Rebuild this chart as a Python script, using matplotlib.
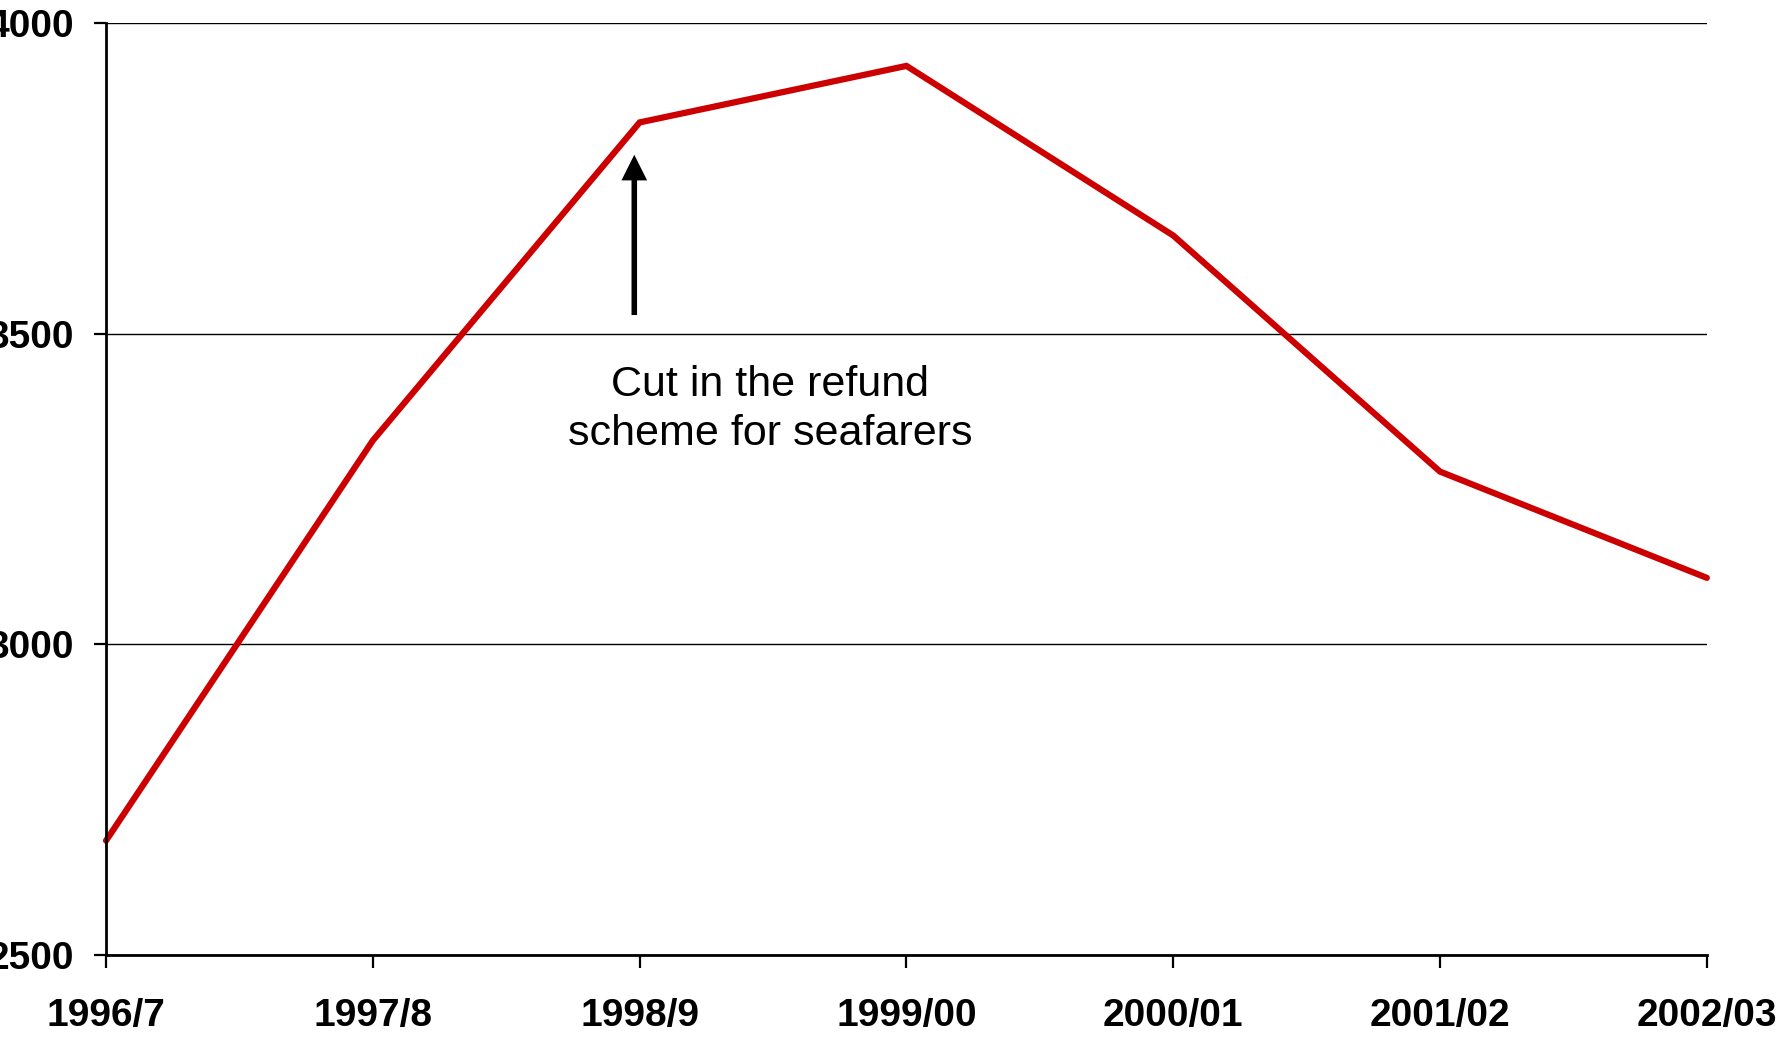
import matplotlib.pyplot as plt

years  = ['1996/7', '1997/8', '1998/9', '1999/00', '2000/01', '2001/02', '2002/03']
values = [2684, 3328, 3840, 3931, 3658, 3278, 3107]
yticks = [2500, 3000, 3500, 4000]

note   = "Cut in the refund\nscheme for seafarers"

plt.rcParams['font.family'] = ['Liberation Sans', 'DejaVu Sans']

fig = plt.figure(figsize=(17.91, 10.37), dpi=100)
ax = fig.add_axes([0.0592, 0.0791, 0.8938, 0.8987])

x = list(range(len(years)))
ax.plot(x, values, color='#cc0000', lw=4.5, solid_capstyle='round', solid_joinstyle='miter',
        zorder=3, clip_on=False)

ax.set_xlim(0, len(years) - 1)
ax.set_ylim(yticks[0], yticks[-1])
ax.set_xticks(x)
ax.set_xticklabels(years)
ax.set_yticks(yticks)
ax.set_yticklabels([str(v) for v in yticks])

ax.grid(True, axis='y', color='black', lw=1.0)
ax.set_axisbelow(True)
for s in ['top', 'right']:
    ax.spines[s].set_visible(False)
for s in ['left', 'bottom']:
    ax.spines[s].set_linewidth(2)
    ax.spines[s].set_zorder(4)

ax.tick_params(axis='both', length=9, width=1.6, direction='out', labelsize=28)
ax.tick_params(axis='x', pad=22)
ax.tick_params(axis='y', pad=14)
for lab in ax.get_xticklabels() + ax.get_yticklabels():
    lab.set_fontweight('bold')

# arrow pointing at the 1998/9 kink
ax.annotate('', xy=(1.98, 3788), xytext=(1.98, 3530),
            arrowprops=dict(arrowstyle='-|>,head_width=0.3,head_length=0.6', color='black', lw=4,
                            mutation_scale=20, shrinkA=0, shrinkB=0, capstyle='butt',
                            joinstyle='miter'))
ax.text(2.49, 3378, note, ha='center', va='center', fontsize=31, linespacing=1.3)

fig.savefig('out.png', dpi=100)
